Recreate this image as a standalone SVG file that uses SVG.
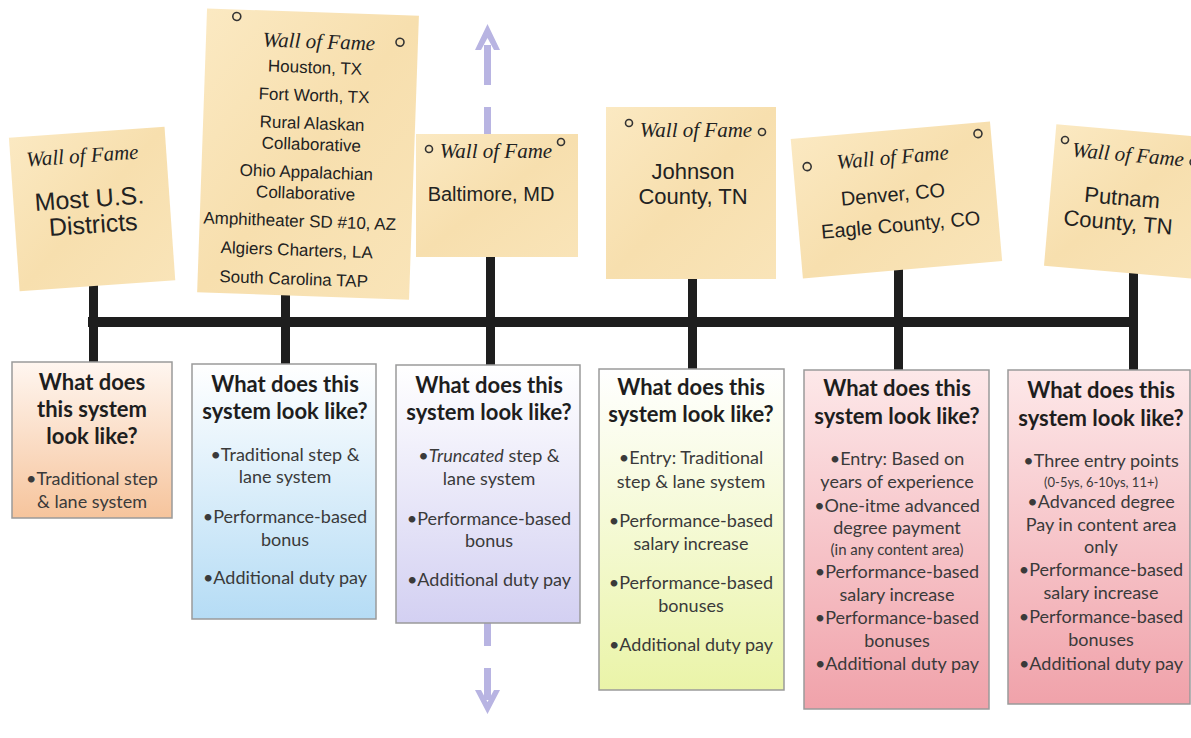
<svg xmlns="http://www.w3.org/2000/svg" width="1191" height="738" viewBox="0 0 1191 738">
<style>
.sign{fill:url(#parch);}
.pin{fill:none;stroke:#333;stroke-width:1.6;}
.wof{font-family:"Liberation Serif",serif;font-style:italic;font-size:21px;fill:#222;text-anchor:middle;}
.st{font-family:"Liberation Sans",Arial,sans-serif;fill:#222;text-anchor:middle;}
.box{stroke:#9a9a9a;stroke-width:1.5;}
.bt{font-family:Lato,"Open Sans",sans-serif;font-weight:bold;font-size:22px;fill:#1e1e1e;text-anchor:middle;}
.bb{font-family:Lato,"Open Sans",sans-serif;font-size:18px;fill:#3a3a3a;text-anchor:middle;}
.sm{font-size:15px;}
.xs{font-size:13px;}
.post{fill:#1e1e1e;}
</style>
<defs>
<linearGradient id="parch" x1="0" y1="0" x2="1" y2="1">
<stop offset="0" stop-color="#fbe9c2"/><stop offset="0.5" stop-color="#f7dfae"/><stop offset="1" stop-color="#f9e4b8"/>
</linearGradient>
<linearGradient id="gOr" x1="0" y1="0" x2="0" y2="1"><stop offset="0" stop-color="#fff6f0"/><stop offset="1" stop-color="#f6c49c"/></linearGradient>
<linearGradient id="gBl" x1="0" y1="0" x2="0" y2="1"><stop offset="0" stop-color="#ffffff"/><stop offset="1" stop-color="#b5dcf5"/></linearGradient>
<linearGradient id="gPu" x1="0" y1="0" x2="0" y2="1"><stop offset="0" stop-color="#ffffff"/><stop offset="1" stop-color="#d3d0f2"/></linearGradient>
<linearGradient id="gYe" x1="0" y1="0" x2="0" y2="1"><stop offset="0" stop-color="#ffffff"/><stop offset="1" stop-color="#eaf4a8"/></linearGradient>
<linearGradient id="gPk" x1="0" y1="0" x2="0" y2="1"><stop offset="0" stop-color="#fde8e9"/><stop offset="1" stop-color="#f0a2aa"/></linearGradient>
</defs>
<rect width="1191" height="738" fill="#ffffff"/>

<g id="timeline-arrow" fill="#b8b4e2">
<rect x="484" y="45" width="7" height="40"/>
<rect x="484" y="107" width="7" height="30"/>
<path d="M487.5 24 L475 50 L481 50 L487.5 38 L494 50 L500 50 Z"/>
<rect x="484" y="622" width="7" height="24"/>
<rect x="484" y="668" width="7" height="32"/>
<path d="M487.5 714 L475 690 L481 690 L487.5 702 L494 690 L500 690 Z"/>
</g>

<g id="connectors">
<rect class="post" x="88" y="317" width="1050" height="10"/>
<rect class="post" x="89" y="285" width="9" height="78"/>
<rect class="post" x="281" y="295" width="9" height="70"/>
<rect class="post" x="486" y="250" width="9" height="116"/>
<rect class="post" x="688" y="275" width="9" height="95"/>
<rect class="post" x="894" y="262" width="9" height="109"/>
<rect class="post" x="1129" y="270" width="9" height="101"/>
</g>

<g id="sign1" transform="rotate(-4 92 208)">
<rect class="sign" x="14" y="132" width="156" height="154"/>
<text class="wof" x="86" y="162">Wall of Fame</text>
<text class="st" x="90" y="207" font-size="25">Most U.S.</text>
<text class="st" x="92" y="233" font-size="25">Districts</text>
</g>

<g id="sign2" transform="rotate(2 307 155)">
<rect class="sign" x="202" y="12" width="212" height="284"/>
<circle class="pin" cx="232" cy="19" r="4"/>
<circle class="pin" cx="396" cy="39" r="4"/>
<text class="wof" x="315" y="48">Wall of Fame</text>
<text class="st" x="312" y="73" font-size="17">Houston, TX</text>
<text class="st" x="312" y="101" font-size="17">Fort Worth, TX</text>
<text class="st" x="311" y="129" font-size="17">Rural Alaskan</text>
<text class="st" x="311" y="150" font-size="17">Collaborative</text>
<text class="st" x="307" y="178" font-size="17">Ohio Appalachian</text>
<text class="st" x="307" y="199" font-size="17">Collaborative</text>
<text class="st" x="302" y="227" font-size="17">Amphitheater SD #10, AZ</text>
<text class="st" x="300" y="256" font-size="17">Algiers Charters, LA</text>
<text class="st" x="298" y="285" font-size="17">South Carolina TAP</text>
</g>

<g id="sign3">
<rect class="sign" x="416" y="134" width="162" height="123"/>
<circle class="pin" cx="429" cy="149" r="3.5"/>
<circle class="pin" cx="561" cy="142" r="3.5"/>
<text class="wof" x="496" y="158">Wall of Fame</text>
<text class="st" x="491" y="201" font-size="20">Baltimore, MD</text>
</g>

<g id="sign4">
<rect class="sign" x="606" y="107" width="170" height="172"/>
<circle class="pin" cx="629" cy="123" r="3.5"/>
<circle class="pin" cx="762" cy="132" r="3.5"/>
<text class="wof" x="696" y="137">Wall of Fame</text>
<text class="st" x="693" y="179" font-size="22">Johnson</text>
<text class="st" x="693" y="204" font-size="22">County, TN</text>
</g>

<g id="sign5" transform="rotate(-5 896 195)">
<rect class="sign" x="796" y="130" width="200" height="140"/>
<circle class="pin" cx="810" cy="159" r="4"/>
<circle class="pin" cx="983" cy="141" r="4"/>
<text class="wof" x="896" y="164">Wall of Fame</text>
<text class="st" x="893" y="201" font-size="20">Denver, CO</text>
<text class="st" x="898" y="232" font-size="20">Eagle County, CO</text>
</g>

<g id="sign6" transform="rotate(5 1120 200)">
<rect class="sign" x="1050" y="130" width="150" height="142"/>
<circle class="pin" cx="1060" cy="145" r="3.5"/>
<circle class="pin" cx="1190" cy="156" r="3.5"/>
<text class="wof" x="1124" y="161">Wall of Fame</text>
<text class="st" x="1122" y="205" font-size="22">Putnam</text>
<text class="st" x="1120" y="230" font-size="22">County, TN</text>
</g>

<g id="box1">
<rect class="box" x="12" y="362" width="160" height="156" fill="url(#gOr)"/>
<text class="bt" x="92" y="390">What does</text>
<text class="bt" x="92" y="417">this system</text>
<text class="bt" x="92" y="444">look like?</text>
<text class="bb" x="92" y="485">•Traditional step</text>
<text class="bb" x="92" y="508">&amp; lane system</text>
</g>

<g id="box2">
<rect class="box" x="192" y="364" width="184" height="255" fill="url(#gBl)"/>
<text class="bt" x="285" y="392">What does this</text>
<text class="bt" x="285" y="419">system look like?</text>
<text class="bb" x="285" y="461">•Traditional step &amp;</text>
<text class="bb" x="285" y="483">lane system</text>
<text class="bb" x="285" y="523">•Performance-based</text>
<text class="bb" x="285" y="546">bonus</text>
<text class="bb" x="285" y="584">•Additional duty pay</text>
</g>

<g id="box3">
<rect class="box" x="396" y="365" width="184" height="258" fill="url(#gPu)"/>
<text class="bt" x="489" y="393">What does this</text>
<text class="bt" x="489" y="420">system look like?</text>
<text class="bb" x="489" y="462">•<tspan font-style="italic">Truncated</tspan> step &amp;</text>
<text class="bb" x="489" y="485">lane system</text>
<text class="bb" x="489" y="525">•Performance-based</text>
<text class="bb" x="489" y="547">bonus</text>
<text class="bb" x="489" y="586">•Additional duty pay</text>
</g>

<g id="box4">
<rect class="box" x="599" y="369" width="185" height="321" fill="url(#gYe)"/>
<text class="bt" x="691" y="395">What does this</text>
<text class="bt" x="691" y="422">system look like?</text>
<text class="bb" x="691" y="464">•Entry: Traditional</text>
<text class="bb" x="691" y="488">step &amp; lane system</text>
<text class="bb" x="691" y="527">•Performance-based</text>
<text class="bb" x="691" y="550">salary increase</text>
<text class="bb" x="691" y="589">•Performance-based</text>
<text class="bb" x="691" y="612">bonuses</text>
<text class="bb" x="691" y="651">•Additional duty pay</text>
</g>

<g id="box5">
<rect class="box" x="804" y="370" width="185" height="339" fill="url(#gPk)"/>
<text class="bt" x="897" y="396">What does this</text>
<text class="bt" x="897" y="424">system look like?</text>
<text class="bb" x="897" y="465">•Entry: Based on</text>
<text class="bb" x="897" y="488">years of experience</text>
<text class="bb" x="897" y="512">•One-itme advanced</text>
<text class="bb" x="897" y="534">degree payment</text>
<text class="bb sm" x="897" y="555">(in any content area)</text>
<text class="bb" x="897" y="578">•Performance-based</text>
<text class="bb" x="897" y="601">salary increase</text>
<text class="bb" x="897" y="624">•Performance-based</text>
<text class="bb" x="897" y="647">bonuses</text>
<text class="bb" x="897" y="670">•Additional duty pay</text>
</g>

<g id="box6">
<rect class="box" x="1008" y="370" width="182" height="334" fill="url(#gPk)"/>
<text class="bt" x="1101" y="398">What does this</text>
<text class="bt" x="1101" y="426">system look like?</text>
<text class="bb" x="1101" y="467">•Three entry points</text>
<text class="bb xs" x="1101" y="487">(0-5ys, 6-10ys, 11+)</text>
<text class="bb" x="1101" y="508">•Advanced degree</text>
<text class="bb" x="1101" y="531">Pay in content area</text>
<text class="bb" x="1101" y="553">only</text>
<text class="bb" x="1101" y="576">•Performance-based</text>
<text class="bb" x="1101" y="599">salary increase</text>
<text class="bb" x="1101" y="623">•Performance-based</text>
<text class="bb" x="1101" y="646">bonuses</text>
<text class="bb" x="1101" y="670">•Additional duty pay</text>
</g>
</svg>
